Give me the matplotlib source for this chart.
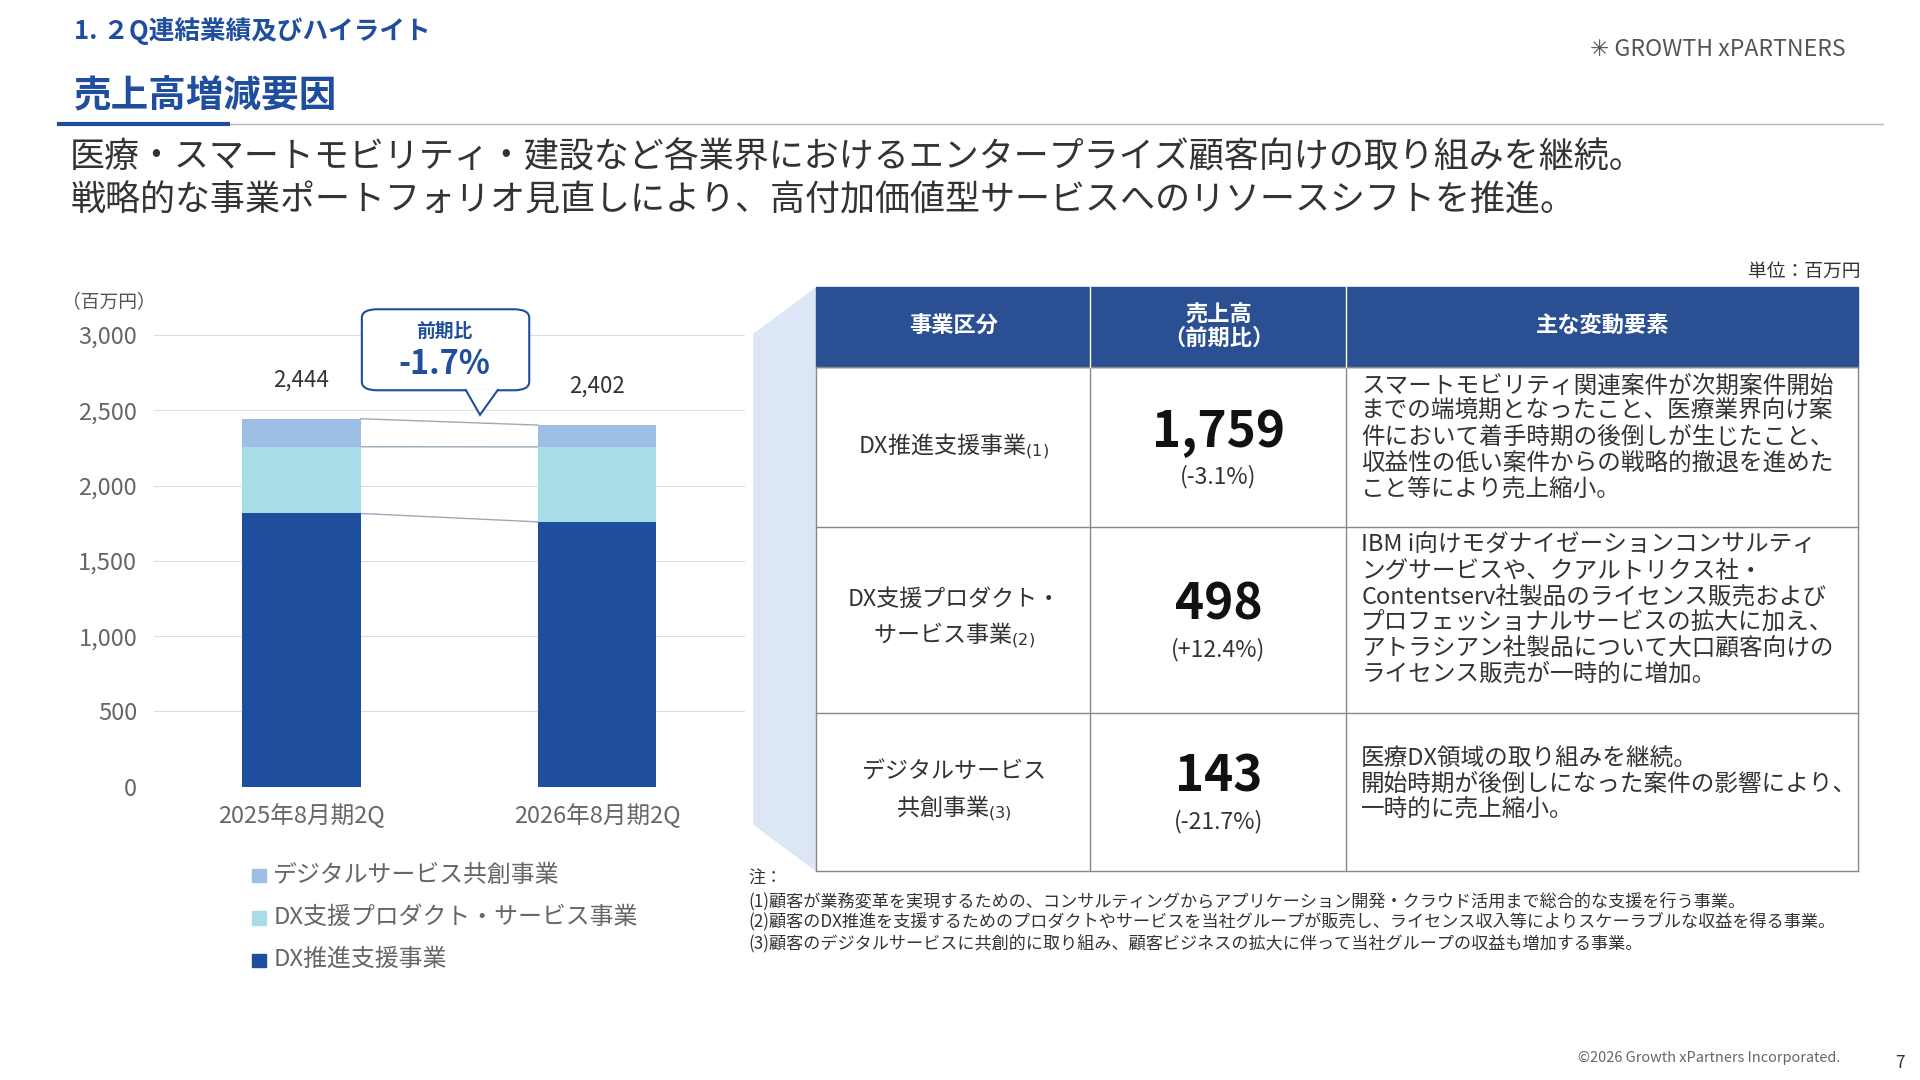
import matplotlib.pyplot as plt
from matplotlib.patches import Rectangle, Polygon, FancyBboxPatch

plt.rcParams['font.family'] = ['Noto Sans CJK JP', 'DejaVu Sans']

periods = ['2025年8月期2Q', '2026年8月期2Q']
segments = ['DX推進支援事業', 'DX支援プロダクト・サービス事業', 'デジタルサービス共創事業']
dx_promo = [1815, 1759]
dx_product = [443, 498]
digital = [186, 145]
totals = [2444, 2402]
seg_colors = ['#1f4e9e', '#a8dce6', '#9dbfe6']

W, H = 1560, 880
fig = plt.figure(figsize=(19.2, 10.8), dpi=100)


def fx(x):
    return x / W


def fy(y):
    return 1 - y / H


def txt(x, y, s, size, **kw):
    fig.text(fx(x), fy(y), s, fontsize=size * 1.23, **kw)


navy = '#1f4e9e'
txt(60, 25, '1. ２Q連結業績及びハイライト', 15, color=navy, weight='bold', va='center')
txt(60, 78, '売上高増減要因', 22, color=navy, weight='bold', va='center')
fig.add_artist(plt.Line2D([fx(48), fx(1530)], [fy(101), fy(101)], color='#bbbbbb', lw=1))
fig.add_artist(plt.Line2D([fx(48), fx(185)], [fy(101), fy(101)], color=navy, lw=3))
txt(1292, 40, '✳ GROWTH xPARTNERS', 13.5, color='#555555', va='center')
txt(57, 128, '医療・スマートモビリティ・建設など各業界におけるエンタープライズ顧客向けの取り組みを継続。', 20.5, color='#333333', va='center')
txt(57, 163, '戦略的な事業ポートフォリオ見直しにより、高付加価値型サービスへのリソースシフトを推進。', 20.5, color='#333333', va='center')
txt(1512, 221, '単位：百万円', 11, color='#333333', ha='right', va='center')

# chart
ax = fig.add_axes([fx(125), fy(641), fx(605) - fx(125), fy(273) - fy(641)])
xs = [0, 1]
b1 = dx_promo
b2 = [a + b for a, b in zip(dx_promo, dx_product)]
ax.bar(xs, dx_promo, width=0.4, color=seg_colors[0], zorder=3)
ax.bar(xs, dx_product, bottom=b1, width=0.4, color=seg_colors[1], zorder=3)
ax.bar(xs, digital, bottom=b2, width=0.4, color=seg_colors[2], zorder=3)
for lv in [b1, b2, totals]:
    ax.plot([0.2, 0.8], lv, color='#99aabb', lw=1, zorder=2)
for x, t in zip(xs, totals):
    ax.text(x, t + 180, f'{t:,}', ha='center', va='bottom', fontsize=16, color='#333333')
ax.set_xlim(-0.5, 1.5)
ax.set_ylim(0, 3000)
ax.set_yticks(range(0, 3001, 500))
ax.set_yticklabels([f'{v:,}' for v in range(0, 3001, 500)], fontsize=17, color='#666666')
ax.set_xticks(xs)
ax.set_xticklabels(periods, fontsize=17, color='#666666')
ax.grid(axis='y', color='#dddddd', zorder=0)
for s in ax.spines.values():
    s.set_visible(False)
ax.tick_params(length=0, pad=12)
txt(50, 246, '（百万円）', 11, color='#555555', va='center')

# callout
fig.add_artist(FancyBboxPatch((fx(294), fy(318)), fx(430) - fx(294), fy(252) - fy(318),
                              boxstyle='round,pad=0,rounding_size=0.008', fc='white', ec=navy, lw=1.5))
fig.add_artist(Polygon([(fx(378), fy(317)), (fx(390), fy(338)), (fx(405), fy(317))],
                       closed=False, fc='white', ec=navy, lw=1.5))
txt(361, 270, '前期比', 11, color=navy, weight='bold', ha='center', va='center')
txt(361, 297, '-1.7%', 19, color=navy, weight='bold', ha='center', va='center')

# legend
for i, (lab, c) in enumerate(zip(segments[::-1], seg_colors[::-1])):
    y = 713 + i * 34.5
    fig.add_artist(Rectangle((fx(205), fy(y + 6)), fx(11), fy(0) - fy(11), color=c))
    txt(222, y, lab, 14, color='#666666', va='center')

# table
fig.add_artist(Polygon([(fx(612), fy(272)), (fx(663), fy(234)), (fx(663), fy(710)), (fx(612), fy(672))],
                       fc='#dce6f5', ec='none'))
cols = [663, 886, 1094, 1510]
rows = [234, 299, 429, 581, 710]
fig.add_artist(Rectangle((fx(663), fy(299)), fx(1510) - fx(663), fy(234) - fy(299), color='#2a4f92'))
for x in cols:
    fig.add_artist(plt.Line2D([fx(x)] * 2, [fy(299), fy(710)], color='#888888', lw=1))
for y in rows[1:]:
    fig.add_artist(plt.Line2D([fx(663), fx(1510)], [fy(y)] * 2, color='#888888', lw=1))
for x in cols[1:-1]:
    fig.add_artist(plt.Line2D([fx(x)] * 2, [fy(234), fy(299)], color='white', lw=1))
txt(775, 266, '事業区分', 13, color='white', weight='bold', ha='center', va='center')
txt(990, 266, '売上高\n（前期比）', 13, color='white', weight='bold', ha='center', va='center', linespacing=1.0)
txt(1302, 266, '主な変動要素', 13, color='white', weight='bold', ha='center', va='center')

names = ['DX推進支援事業$_{(1)}$', 'DX支援プロダクト・\nサービス事業$_{(2)}$', 'デジタルサービス\n共創事業$_{(3)}$']
values = ['1,759', '498', '143']
changes = ['(-3.1%)', '(+12.4%)', '(-21.7%)']
notes = [
    'スマートモビリティ関連案件が次期案件開始\nまでの端境期となったこと、医療業界向け案\n件において着手時期の後倒しが生じたこと、\n収益性の低い案件からの戦略的撤退を進めた\nこと等により売上縮小。',
    'IBM i向けモダナイゼーションコンサルティ\nングサービスや、クアルトリクス社・\nContentserv社製品のライセンス販売および\nプロフェッショナルサービスの拡大に加え、\nアトラシアン社製品について大口顧客向けの\nライセンス販売が一時的に増加。',
    '医療DX領域の取り組みを継続。\n開始時期が後倒しになった案件の影響により、\n一時的に売上縮小。',
]
for i in range(3):
    top, bot = rows[i + 1], rows[i + 2]
    mid = (top + bot) / 2
    txt(775, mid, names[i], 13.5, color='#333333', ha='center', va='center', linespacing=1.4)
    txt(990, mid - 12, values[i], 29, color='#111111', weight='bold', ha='center', va='center')
    txt(990, mid + 24, changes[i], 13.5, color='#333333', ha='center', va='center')
    ny = top + 6 if i < 2 else top + 28
    txt(1106, ny, notes[i], 13.8, color='#333333', va='top', linespacing=1.15)

txt(608, 716, '注：', 10, color='#333333', va='center')
foot = ['(1)顧客が業務変革を実現するための、コンサルティングからアプリケーション開発・クラウド活用まで総合的な支援を行う事業。',
        '(2)顧客のDX推進を支援するためのプロダクトやサービスを当社グループが販売し、ライセンス収入等によりスケーラブルな収益を得る事業。',
        '(3)顧客のデジタルサービスに共創的に取り組み、顧客ビジネスの拡大に伴って当社グループの収益も増加する事業。']
for i, f in enumerate(foot):
    txt(608, 734 + i * 17.5, f, 10, color='#333333', va='center')
txt(1495, 862, '©2026 Growth xPartners Incorporated.', 8.5, color='#666666', ha='right', va='center')
txt(1540, 866, '7', 10, color='#333333', va='center')

fig.savefig('out.png', dpi=100)
